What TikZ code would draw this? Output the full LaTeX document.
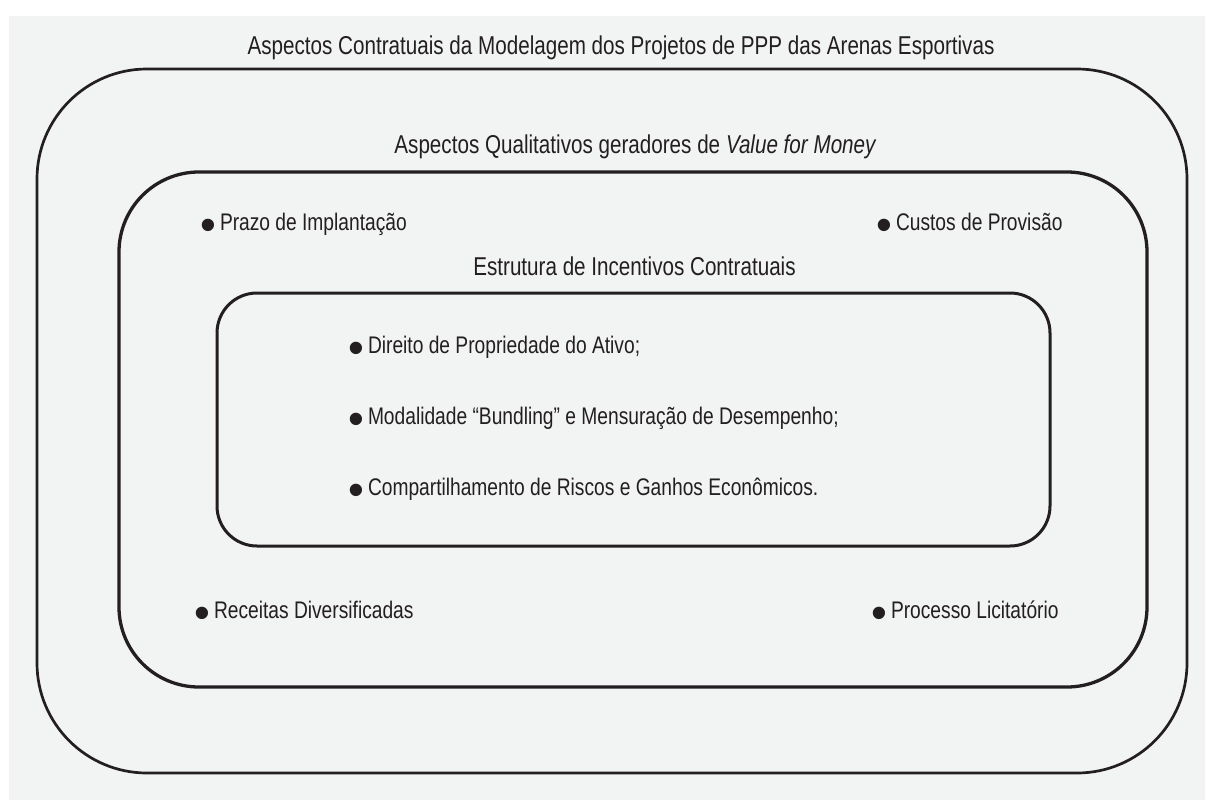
\documentclass[tikz,border=0pt]{standalone}
\usepackage{fontspec}
\setmainfont{Liberation Sans}[FakeStretch=0.80]
\definecolor{bg}{HTML}{F2F3F3}
\definecolor{ink}{HTML}{231F20}
\newcommand\bul{\makebox[20pt][l]{\raisebox{-0.42em}{\scalebox{2.35}[1.9]{\textbullet}}}}
\begin{document}
\begin{tikzpicture}[x=1pt,y=-1pt,
  frame/.style={draw=ink,line join=round},
  lbl/.style={inner sep=0pt,outer sep=0pt,text=ink,font=\fontsize{24}{28}\selectfont},
  title/.style={lbl,anchor=base,font=\fontsize{25.8}{30}\selectfont},
  item/.style={lbl,anchor=base west}]
\useasboundingbox[fill=white] (0,0) rectangle (1205,800);
\fill[bg] (9,16) rectangle (1205,800);
% frames
\draw[frame,line width=2.7pt,rounded corners=110pt] (37,69) rectangle (1187,773);
\draw[frame,line width=3.3pt,rounded corners=80pt] (119,172) rectangle (1147,687);
\draw[frame,line width=3pt,rounded corners=40pt] (217,293) rectangle (1050,546);
% titles
\node[title] (t1) at (621,55) {Aspectos Contratuais da Modelagem dos Projetos de PPP das Arenas Esportivas};
\node[title] (t2) at (635.5,153) {Aspectos Qualitativos geradores de \textit{Value for Money}};
\node[title] (t3) at (634.5,275) {Estrutura de Incentivos Contratuais};
% items of middle frame
\node[item] (p1) at (200,230) {\bul Prazo de Implantação};
\node[item] (p2) at (876,230) {\bul Custos de Provisão};
\node[item] (p3) at (194,618) {\bul Receitas Diversificadas};
\node[item] (p4) at (871,618) {\bul Processo Licitatório};
% items of inner frame
\node[item] (i1) at (348,353) {\bul Direito de Propriedade do Ativo;};
\node[item] (i2) at (348,424) {\bul Modalidade “Bundling” e Mensuração de Desempenho;};
\node[item] (i3) at (348,495) {\bul Compartilhamento de Riscos e Ganhos Econômicos.};
\end{tikzpicture}
\end{document}
